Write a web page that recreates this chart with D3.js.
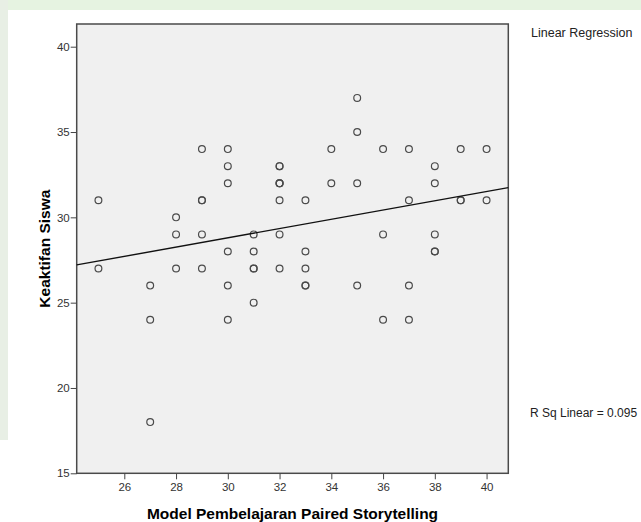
<!DOCTYPE html>
<html lang="en">
<head>
<meta charset="UTF-8">
<title>Scatter Keaktifan Siswa</title>
<script src="https://d3js.org/d3.v7.min.js"></script>
<style>
    body { margin: 0; background: #fff; }
    svg { display: block; font-family: "Liberation Sans", Arial, sans-serif; }
    .axis text { font-size: 11.5px; fill: #333; }
    .axis line { stroke: #444; }
    .axis path { display: none; }
    .dot { fill: none; stroke: #4a4a4a; stroke-width: 1.2; }
</style>
</head>
<body>
<svg class="chart"></svg>
<script>
    // x = Model Pembelajaran Paired Storytelling, y = Keaktifan Siswa
    const xValues = [25, 25, 27, 27, 27, 28, 28, 28, 29, 29, 29, 29, 29,
        30, 30, 30, 30, 30, 30, 31, 31, 31, 31, 31,
        32, 32, 32, 32, 32, 32, 32, 32, 33, 33, 33, 33, 33,
        34, 34, 35, 35, 35, 35, 36, 36, 36, 37, 37, 37, 37,
        38, 38, 38, 38, 38, 39, 39, 39, 40, 40];
    const yValues = [31, 27, 26, 24, 18, 30, 29, 27, 34, 31, 31, 29, 27,
        34, 33, 32, 28, 26, 24, 29, 28, 27, 27, 25,
        33, 33, 32, 32, 31, 29, 27, 32, 31, 28, 27, 26, 26,
        34, 32, 37, 35, 32, 26, 34, 29, 24, 34, 31, 26, 24,
        33, 32, 29, 28, 28, 34, 31, 31, 34, 31];
    const xTicks = [26, 28, 30, 32, 34, 36, 38, 40];
    const yTicks = [15, 20, 25, 30, 35, 40];
    const fitIntercept = 20.65;
    const fitSlope = 0.2716;
    const rSquared = "0.095";

    const width = 641, height = 522;
    const margin = { top: 24, right: 132.7, bottom: 48.7, left: 76.7 };

    const svg = d3.select(".chart")
        .attr("width", width)
        .attr("height", height);

    // faded strips of the page behind the chart
    svg.append("rect").attr("x", 0).attr("y", 0).attr("width", width).attr("height", 10).attr("fill", "#e6f3e1");
    svg.append("rect").attr("x", 0).attr("y", 0).attr("width", 8).attr("height", 440).attr("fill", "#e8efe5");

    const x = d3.scaleLinear().domain([24.16, 40.84]).range([margin.left, width - margin.right]);
    const y = d3.scaleLinear().domain([15, 41.33]).range([height - margin.bottom, margin.top]);

    svg.append("rect")
        .attr("x", x.range()[0]).attr("y", y.range()[1])
        .attr("width", x.range()[1] - x.range()[0])
        .attr("height", y.range()[0] - y.range()[1])
        .attr("fill", "#f0f0f0")
        .attr("stroke", "#4a4a4a")
        .attr("stroke-width", 1.5);

    svg.append("g")
        .attr("class", "axis")
        .attr("transform", `translate(0,${y.range()[0]})`)
        .call(d3.axisBottom(x).tickValues(xTicks).tickSize(6).tickPadding(4));

    svg.append("g")
        .attr("class", "axis")
        .attr("transform", `translate(${x.range()[0]},0)`)
        .call(d3.axisLeft(y).tickValues(yTicks).tickSize(6).tickPadding(1));

    const points = xValues.map((v, i) => ({ x: v, y: yValues[i] }));

    svg.append("g")
        .selectAll(".dot")
        .data(points)
        .enter().append("circle")
        .attr("class", "dot")
        .attr("cx", d => x(d.x))
        .attr("cy", d => y(d.y))
        .attr("r", 3.4);

    const [x0, x1] = x.domain();
    svg.append("line")
        .attr("x1", x(x0)).attr("y1", y(fitIntercept + fitSlope * x0))
        .attr("x2", x(x1)).attr("y2", y(fitIntercept + fitSlope * x1))
        .attr("stroke", "#111")
        .attr("stroke-width", 1.4);

    svg.append("text")
        .attr("x", 531).attr("y", 37)
        .attr("font-size", "12.5px").attr("fill", "#222")
        .text("Linear Regression");

    svg.append("text")
        .attr("x", 530).attr("y", 417)
        .attr("font-size", "12px").attr("fill", "#222")
        .text("R Sq Linear = " + rSquared);

    svg.append("text")
        .attr("x", (x.range()[0] + x.range()[1]) / 2).attr("y", 519)
        .attr("text-anchor", "middle")
        .attr("font-size", "15.5px").attr("font-weight", "bold")
        .text("Model Pembelajaran Paired Storytelling");

    svg.append("text")
        .attr("transform", `translate(50,${(y.range()[0] + y.range()[1]) / 2}) rotate(-90)`)
        .attr("text-anchor", "middle")
        .attr("font-size", "15.5px").attr("font-weight", "bold")
        .text("Keaktifan Siswa");
</script>
</body>
</html>
